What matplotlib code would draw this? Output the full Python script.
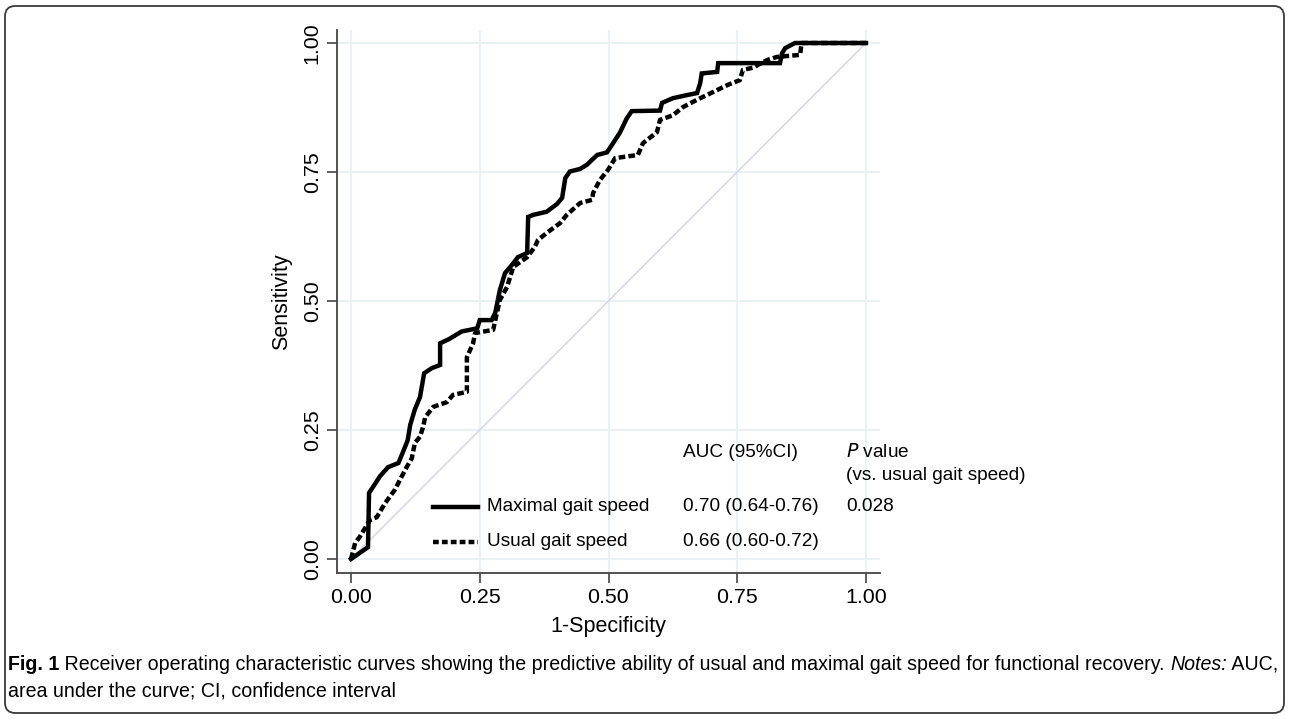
import matplotlib
matplotlib.use("Agg")
import matplotlib.pyplot as plt
from matplotlib.patches import FancyBboxPatch

plt.rcParams['font.family'] = ['Liberation Sans', 'DejaVu Sans']

# ---- data ----
max_fpr = [0, 0.033, 0.035, 0.043, 0.056, 0.072, 0.092, 0.10, 0.11, 0.115, 0.124, 0.134, 0.142,
           0.157, 0.173, 0.173, 0.19, 0.215, 0.245, 0.25, 0.273, 0.28, 0.289, 0.299, 0.315, 0.324,
           0.342, 0.344, 0.354, 0.38, 0.40, 0.41, 0.416, 0.425, 0.445, 0.458, 0.478, 0.497, 0.509,
           0.522, 0.535, 0.545, 0.60, 0.604, 0.625, 0.652, 0.672, 0.678, 0.681, 0.711, 0.713,
           0.833, 0.837, 0.843, 0.862, 1.0]
max_tpr = [0, 0.023, 0.128, 0.14, 0.16, 0.178, 0.186, 0.205, 0.23, 0.26, 0.29, 0.314, 0.36,
           0.37, 0.376, 0.418, 0.426, 0.441, 0.447, 0.463, 0.463, 0.477, 0.521, 0.554, 0.573, 0.585,
           0.593, 0.663, 0.667, 0.673, 0.688, 0.70, 0.738, 0.751, 0.756, 0.764, 0.783, 0.788, 0.806,
           0.826, 0.853, 0.868, 0.869, 0.884, 0.893, 0.899, 0.903, 0.922, 0.941, 0.944, 0.961,
           0.961, 0.98, 0.99, 1.0, 1.0]

usual_fpr = [0, 0.008, 0.017, 0.037, 0.05, 0.066, 0.085, 0.098, 0.108, 0.118, 0.124, 0.134, 0.14,
             0.144, 0.16, 0.186, 0.198, 0.225, 0.225, 0.237, 0.241, 0.276, 0.289, 0.303, 0.315,
             0.342, 0.357, 0.363, 0.38, 0.406, 0.419, 0.445, 0.468, 0.47, 0.483, 0.499, 0.513,
             0.557, 0.567, 0.594, 0.60, 0.625, 0.645, 0.672, 0.703, 0.732, 0.755, 0.761, 0.78,
             0.808, 0.827, 0.872, 0.875, 1.0]
usual_tpr = [0, 0.031, 0.043, 0.076, 0.081, 0.108, 0.134, 0.159, 0.178, 0.195, 0.225, 0.237, 0.256,
             0.275, 0.295, 0.304, 0.318, 0.324, 0.391, 0.418, 0.438, 0.444, 0.502, 0.527, 0.566,
             0.585, 0.605, 0.618, 0.632, 0.651, 0.667, 0.69, 0.696, 0.709, 0.734, 0.754, 0.777,
             0.783, 0.806, 0.827, 0.851, 0.86, 0.876, 0.89, 0.905, 0.919, 0.928, 0.948, 0.952,
             0.967, 0.973, 0.977, 1.0, 1.0]

ticks = [0.0, 0.25, 0.5, 0.75, 1.0]
tick_labels = ["0.00", "0.25", "0.50", "0.75", "1.00"]
series_names = ["Maximal gait speed", "Usual gait speed"]
auc_texts = ["0.70 (0.64-0.76)", "0.66 (0.60-0.72)"]
p_texts = ["0.028", ""]

W, H = 1290, 719
fig = plt.figure(figsize=(W / 100, H / 100), dpi=100)

# outer rounded frame
frame = FancyBboxPatch((5 / W, 6 / H), 1279 / W, 707 / H,
                       boxstyle="round,pad=0,rounding_size=0.008",
                       transform=fig.transFigure, fill=False, edgecolor="#3a3a3a",
                       linewidth=1.3, mutation_aspect=W / H)
fig.patches.append(frame)

ax = fig.add_axes([337 / W, 1 - 573 / H, 543 / W, 543 / H])
ax.set_xlim(-0.0272, 1.0272)
ax.set_ylim(-0.0271, 1.0252)

grid_c = "#e9f1f3"
for t in ticks:
    ax.axhline(t, color=grid_c, lw=1.5, zorder=0)
    ax.axvline(t, color=grid_c, lw=1.5, zorder=0)

ax.plot([0, 1], [0, 1], color="#d6d6ec", lw=1.1, zorder=1)
ax.plot(usual_fpr, usual_tpr, color="black", lw=3.2, linestyle=(0, (1.5, 0.7)), zorder=2,
        solid_joinstyle="miter")
ax.plot(max_fpr, max_tpr, color="black", lw=3.2, zorder=3, solid_joinstyle="miter")

for s in ["top", "right"]:
    ax.spines[s].set_visible(False)
for s in ["left", "bottom"]:
    ax.spines[s].set_color("#444444")
    ax.spines[s].set_linewidth(1.3)

ax.set_xticks(ticks)
ax.set_xticklabels(tick_labels, fontsize=15.4)
ax.set_yticks(ticks)
ax.set_yticklabels(tick_labels, fontsize=15.4, rotation=90, va="center")
ax.tick_params(axis="both", length=7, width=1.2, color="#444444", pad=4)
ax.set_xlabel("1-Specificity", fontsize=15.5, labelpad=6)
ax.set_ylabel("Sensitivity", fontsize=15.5, labelpad=8)

# legend / table
fs = 13.7
x_name, x_auc, x_p = 0.264, 0.645, 0.961
ax.text(x_auc, 0.207, "AUC (95%CI)", fontsize=fs, va="center")
ax.text(x_p, 0.207, "$\\it{P}$ value", fontsize=fs, va="center")
ax.text(x_p, 0.161, "(vs. usual gait speed)", fontsize=fs, va="center")
rows_y = [0.101, 0.033]
styles = ["-", (0, (1.3, 0.7))]
for name, auc, p, yy, st in zip(series_names, auc_texts, p_texts, rows_y, styles):
    ax.plot([0.159, 0.247], [yy, yy], color="black", lw=3.2, linestyle=st)
    ax.text(x_name, yy, name, fontsize=fs, va="center")
    ax.text(x_auc, yy, auc, fontsize=fs, va="center")
    if p:
        ax.text(x_p, yy, p, fontsize=fs, va="center")

# caption
fig.canvas.draw()
renderer = fig.canvas.get_renderer()
cfs = 14.1
pieces = [("Fig. 1", "bold", "normal"),
          (" Receiver operating characteristic curves showing the predictive ability of usual and maximal gait speed for functional recovery. ", "normal", "normal"),
          ("Notes:", "normal", "italic"),
          (" AUC,", "normal", "normal")]
x = 8
for txt, wt, st in pieces:
    t = fig.text(x / W, 1 - 664 / H, txt, fontsize=cfs, fontweight=wt, fontstyle=st,
                 va="center", ha="left")
    bb = t.get_window_extent(renderer=renderer)
    x += bb.width
fig.text(8 / W, 1 - 691 / H, "area under the curve; CI, confidence interval", fontsize=cfs,
         va="center", ha="left")

fig.savefig("out.png", dpi=100)
